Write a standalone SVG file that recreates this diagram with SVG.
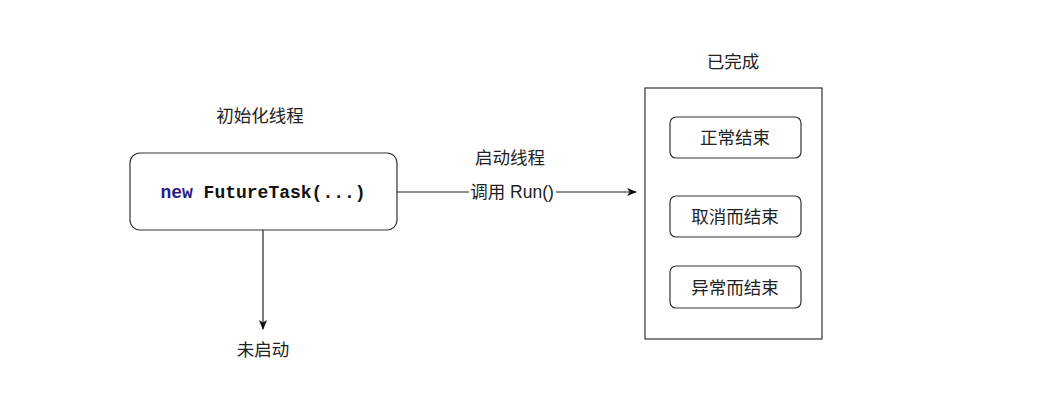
<svg xmlns="http://www.w3.org/2000/svg" width="1060" height="418" viewBox="0 0 1060 418">
<style>
.t{font-family:"Liberation Sans","Noto Sans CJK SC",sans-serif;font-size:17.5px;fill:#222;text-anchor:middle;dominant-baseline:central}
.box{fill:#fff;stroke:#333;stroke-width:1.2}
.ln{stroke:#222;stroke-width:1.2;fill:none}
.code{font-family:"Liberation Mono",monospace;font-weight:bold;font-size:18px;text-anchor:middle;dominant-baseline:central}
</style>
<defs>
<marker id="ah" viewBox="0 0 10 10" refX="9" refY="5" markerWidth="10" markerHeight="10" markerUnits="userSpaceOnUse" orient="auto">
<path d="M0,1 L10,5 L0,9 L2.5,5 Z" fill="#111"/>
</marker>
</defs>
<rect width="1060" height="418" fill="#fff"/>
<g id="connectors">
<line class="ln" x1="397" y1="192" x2="636" y2="192" marker-end="url(#ah)"/>
<line class="ln" x1="263" y1="230" x2="263" y2="329" marker-end="url(#ah)"/>
<rect x="469" y="182" width="87" height="20" fill="#fff"/>
<text class="t" x="512" y="192">调用 Run()</text>
<text class="t" x="510" y="158">启动线程</text>
</g>
<g id="init">
<text class="t" x="260" y="116">初始化线程</text>
<rect class="box" x="130" y="153" width="267" height="77" rx="10"/>
<text class="code" x="263" y="193"><tspan fill="#2a1a86">new</tspan><tspan fill="#111"> FutureTask(...)</tspan></text>
</g>
<g id="notstarted">
<text class="t" x="263" y="350">未启动</text>
</g>
<g id="done">
<text class="t" x="733" y="62">已完成</text>
<rect class="box" x="645" y="88" width="177" height="251"/>
</g>
<g id="normal">
<rect class="box" x="670" y="117" width="131" height="41" rx="6"/>
<text class="t" x="735" y="138">正常结束</text>
</g>
<g id="cancel">
<rect class="box" x="670" y="196" width="131" height="41" rx="6"/>
<text class="t" x="735" y="217">取消而结束</text>
</g>
<g id="error">
<rect class="box" x="670" y="266" width="131" height="42" rx="6"/>
<text class="t" x="735" y="288">异常而结束</text>
</g>
</svg>
